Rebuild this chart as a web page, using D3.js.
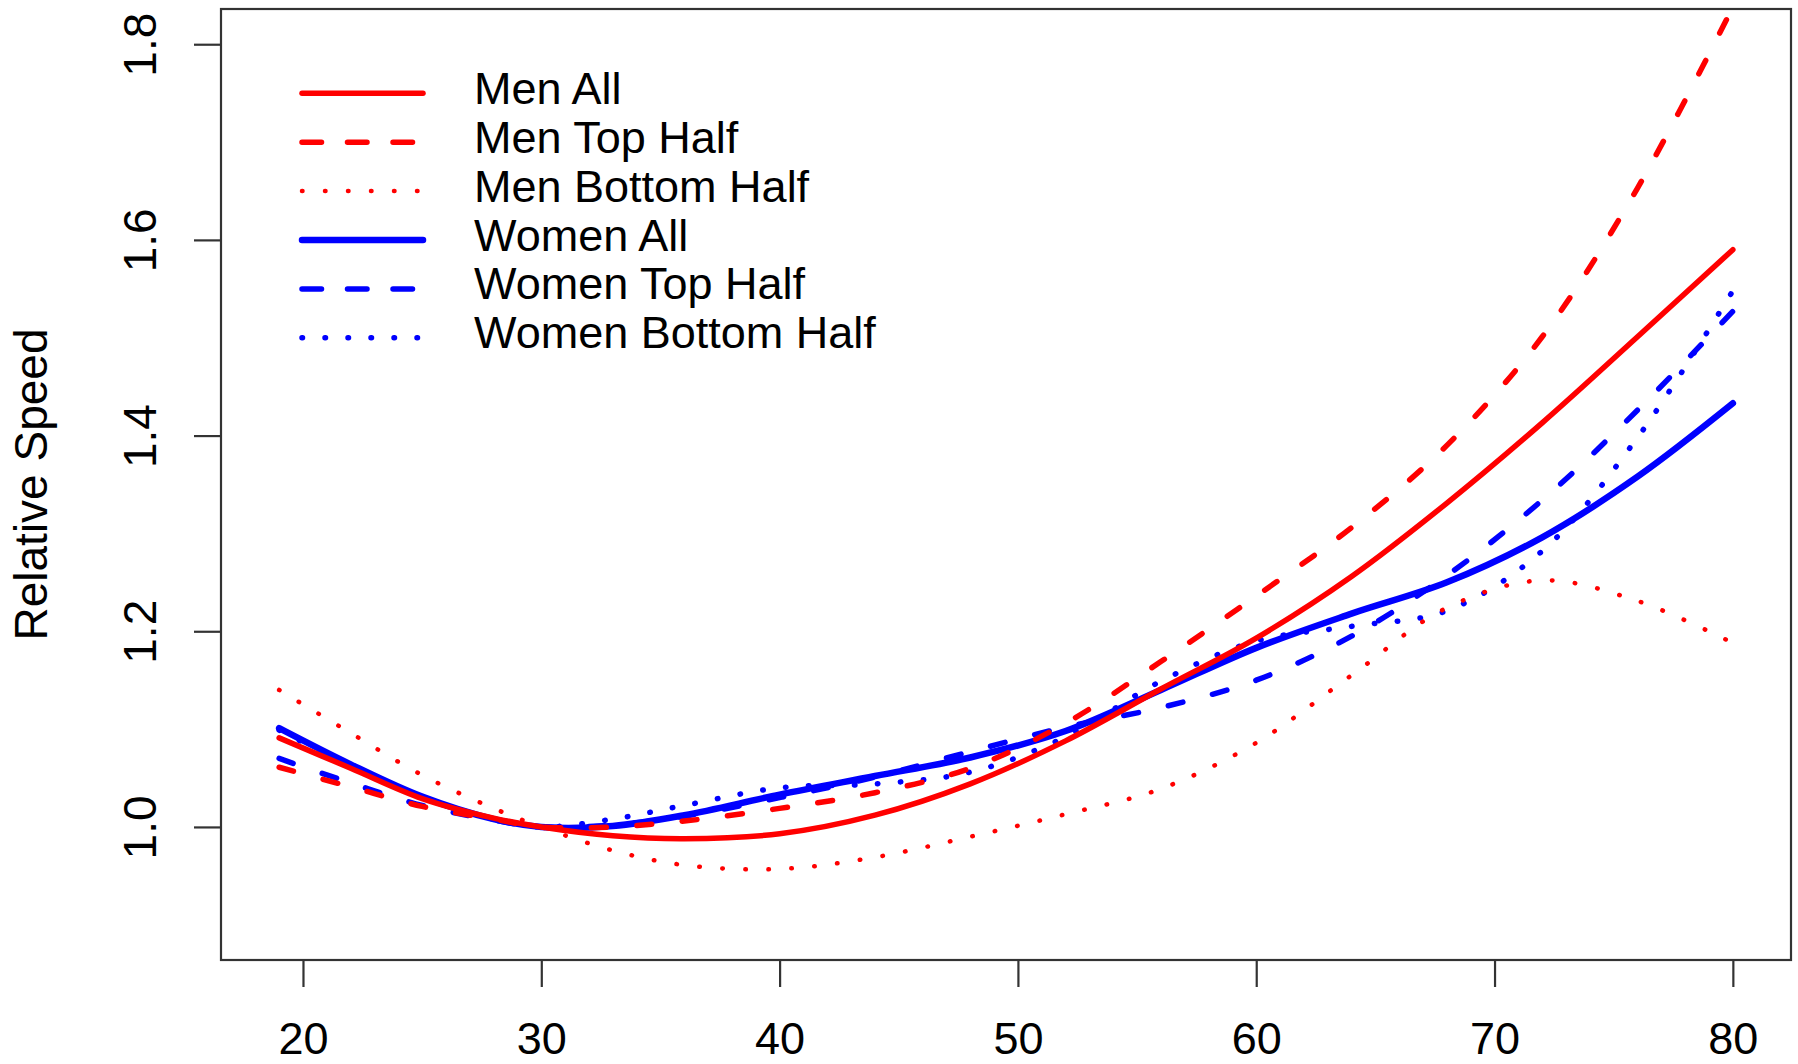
<!DOCTYPE html>
<html>
<head>
<meta charset="utf-8">
<script src="https://cdn.jsdelivr.net/npm/d3@7"></script>
<style>
  html, body { margin: 0; padding: 0; background: #fff; }
  svg { display: block; font-family: "Liberation Sans", Arial, sans-serif; }
</style>
</head>
<body>
<svg id="chart" width="1798" height="1064"></svg>
<script>
// ---- data (relative speed, 1.0 at age 30) ----
const ages        = [19, 22, 25, 28, 30, 33, 36, 40, 44, 48, 52, 56, 60, 64, 68, 72, 76, 80];
const menAll      = [1.091, 1.060, 1.029, 1.009, 1.000, 0.991, 0.988, 0.993, 1.012, 1.044, 1.088, 1.141, 1.193, 1.256, 1.331, 1.413, 1.501, 1.590];
const menTop      = [1.061, 1.041, 1.021, 1.008, 1.000, 1.000, 1.006, 1.019, 1.035, 1.060, 1.106, 1.169, 1.236, 1.306, 1.390, 1.501, 1.653, 1.838];
const menBottom   = [1.140, 1.096, 1.053, 1.019, 1.000, 0.976, 0.961, 0.957, 0.969, 0.990, 1.013, 1.039, 1.086, 1.155, 1.224, 1.252, 1.231, 1.188];
const womenAll    = [1.101, 1.064, 1.031, 1.008, 1.000, 1.001, 1.012, 1.033, 1.052, 1.071, 1.098, 1.140, 1.183, 1.218, 1.250, 1.296, 1.358, 1.433];
const womenTop    = [1.070, 1.045, 1.022, 1.007, 1.000, 1.002, 1.011, 1.030, 1.051, 1.077, 1.102, 1.122, 1.150, 1.195, 1.257, 1.334, 1.426, 1.527];
const womenBottom = [1.099, 1.062, 1.030, 1.008, 1.000, 1.008, 1.022, 1.040, 1.044, 1.056, 1.092, 1.149, 1.190, 1.205, 1.221, 1.282, 1.398, 1.548];

const seriesNames = ['Men All', 'Men Top Half', 'Men Bottom Half', 'Women All', 'Women Top Half', 'Women Bottom Half'];
const xTicks = [20, 30, 40, 50, 60, 70, 80];
const yTicks = [1.0, 1.2, 1.4, 1.6, 1.8];
const yTitle = 'Relative Speed';

// ---- styles ----
const RED = '#ff0000', BLUE = '#0000ff';
const styles = {
  'Men All':           { color: RED,  width: 5.5, dash: null,        legDash: null },
  'Men Top Half':      { color: RED,  width: 5.5, dash: '15,30.6',   legDash: '19.5,26' },
  'Men Bottom Half':   { color: RED,  width: 4.5, dash: '0.5,22.5',  legDash: '0.5,22.5' },
  'Women All':         { color: BLUE, width: 6.5, dash: null,        legDash: null },
  'Women Top Half':    { color: BLUE, width: 5.5, dash: '15,30.6',   legDash: '19.5,26' },
  'Women Bottom Half': { color: BLUE, width: 5.5, dash: '0.5,22.5',  legDash: '0.5,22.5' }
};

const values = [menAll, menTop, menBottom, womenAll, womenTop, womenBottom];
const series = seriesNames.map((name, i) => ({
  name,
  points: ages.map((a, j) => [a, values[i][j]])
}));

const svg = d3.select('#chart');
svg.append('rect').attr('width', 1798).attr('height', 1064).attr('fill', '#fff');

const plotLeft = 221, plotRight = 1791, plotTop = 9, plotBottom = 960;

const x = d3.scaleLinear().domain([16.56, 82.44]).range([plotLeft, plotRight]);
const y = d3.scaleLinear().domain([0.864, 1.836]).range([plotBottom, plotTop]);

svg.append('clipPath').attr('id', 'plotClip')
  .append('rect')
  .attr('x', plotLeft).attr('y', plotTop)
  .attr('width', plotRight - plotLeft).attr('height', plotBottom - plotTop);

// curves: women first, men on top
const line = d3.line()
  .x(d => x(d[0]))
  .y(d => y(d[1]))
  .curve(d3.curveCatmullRom.alpha(0.5));

const drawOrder = [3, 4, 5, 0, 1, 2];
const curves = svg.append('g').attr('clip-path', 'url(#plotClip)');
drawOrder.forEach(i => {
  const s = series[i];
  const st = styles[s.name];
  curves.append('path')
    .datum(s.points)
    .attr('d', line)
    .attr('fill', 'none')
    .attr('stroke', st.color)
    .attr('stroke-width', st.width)
    .attr('stroke-linecap', 'round')
    .attr('stroke-linejoin', 'round')
    .attr('stroke-dasharray', st.dash);
});

// box
svg.append('rect')
  .attr('x', plotLeft).attr('y', plotTop)
  .attr('width', plotRight - plotLeft).attr('height', plotBottom - plotTop)
  .attr('fill', 'none')
  .attr('stroke', '#333')
  .attr('stroke-width', 2.2);

// x axis
const xAxis = svg.append('g')
  .attr('transform', `translate(0,${plotBottom})`)
  .call(d3.axisBottom(x).tickValues(xTicks).tickSize(27).tickFormat(d3.format('d')));
xAxis.select('.domain').remove();
xAxis.selectAll('.tick line').attr('stroke', '#333').attr('stroke-width', 2.2);
xAxis.selectAll('.tick text')
  .attr('y', 94).attr('dy', 0)
  .attr('fill', '#000')
  .style('font-size', '45px');

// y axis
const yAxis = svg.append('g')
  .attr('transform', `translate(${plotLeft},0)`)
  .call(d3.axisLeft(y).tickValues(yTicks).tickSize(27).tickFormat(d3.format('.1f')));
yAxis.select('.domain').remove();
yAxis.selectAll('.tick line').attr('stroke', '#333').attr('stroke-width', 2.2);
yAxis.selectAll('.tick text')
  .attr('x', 0).attr('dy', 0)
  .attr('text-anchor', 'middle')
  .attr('transform', `translate(${156 - plotLeft},0) rotate(-90)`)
  .attr('fill', '#000')
  .style('font-size', '46px');

// y title
svg.append('text')
  .attr('transform', `translate(47,${(plotTop + plotBottom) / 2}) rotate(-90)`)
  .attr('text-anchor', 'middle')
  .style('font-size', '46px')
  .attr('fill', '#000')
  .text(yTitle);

// legend (no box)
const legend = svg.append('g');
series.forEach((s, i) => {
  const st = styles[s.name];
  const ly = 93.3 + i * 48.9;
  legend.append('line')
    .attr('x1', 302).attr('x2', 423)
    .attr('y1', ly).attr('y2', ly)
    .attr('stroke', st.color)
    .attr('stroke-width', st.width)
    .attr('stroke-linecap', 'round')
    .attr('stroke-dasharray', st.legDash);
  legend.append('text')
    .attr('x', 474).attr('y', ly + 10.5)
    .style('font-size', '45px')
    .attr('fill', '#000')
    .text(s.name);
});
</script>
</body>
</html>
